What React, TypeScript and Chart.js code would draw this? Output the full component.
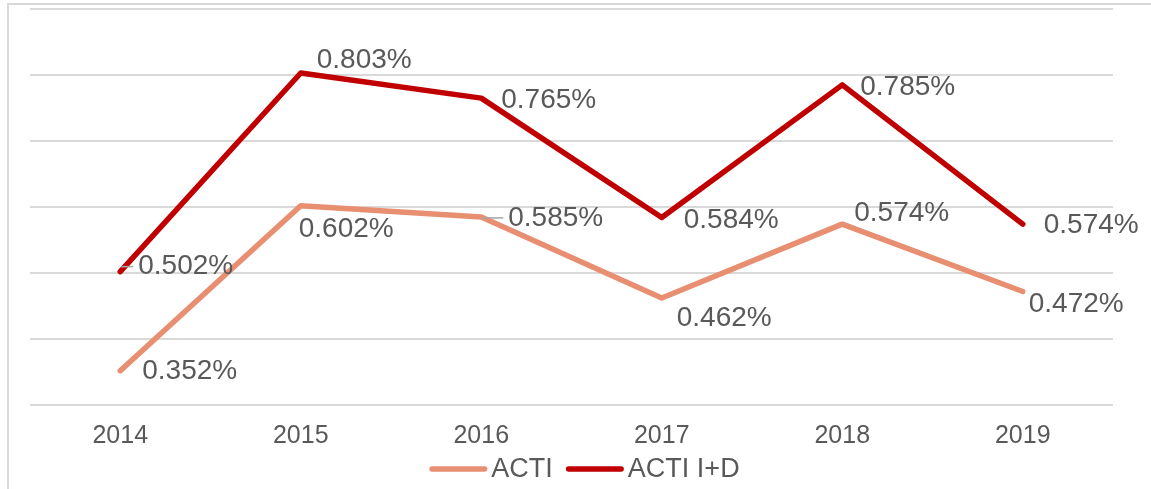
import React, { useEffect, useRef } from "react";
import { Chart, registerables } from "chart.js";

Chart.register(...registerables);

const years = ["2014", "2015", "2016", "2017", "2018", "2019"];
const actiValues = [0.352, 0.602, 0.585, 0.462, 0.574, 0.472];
const actiIDValues = [0.502, 0.803, 0.765, 0.584, 0.785, 0.574];
const seriesNames = ["ACTI", "ACTI I+D"];

// label placement (offsets from point, in px) – style, not data
const actiLabelOffsets = [
  [22, 1], [-2, 24], [27, 1], [15, 20], [12, -11], [6, 13],
];
const actiIDLabelOffsets = [
  [18, -5], [16, -13], [20, 2], [22, 3], [18, 2], [21, 1],
];
const labelOffsets = [actiLabelOffsets, actiIDLabelOffsets];
// leader lines: [datasetIndex, pointIndex]
const leaders = [
  [1, 0],
  [0, 2],
];

const COLORS = ["#E88E71", "#C00000"];
const TEXT = "#595959";
const GRID = "#D9D9D9";
const FONT = "'Liberation Sans', Arial, sans-serif";
const LINE_W = 5.5;

const labelPlugin = {
  id: "pctLabels",
  afterDatasetsDraw(chart: any) {
    const ctx = chart.ctx;
    ctx.save();
    ctx.strokeStyle = "#A6A6A6";
    ctx.lineWidth = 1.5;
    leaders.forEach(([d, i]) => {
      const pt = chart.getDatasetMeta(d).data[i];
      const [dx, dy] = labelOffsets[d][i];
      ctx.beginPath();
      ctx.moveTo(pt.x + 1, pt.y + dy);
      ctx.lineTo(pt.x + dx - 5, pt.y + dy);
      ctx.stroke();
    });
    ctx.font = `28px ${FONT}`;
    ctx.fillStyle = TEXT;
    ctx.textAlign = "left";
    ctx.textBaseline = "middle";
    chart.data.datasets.forEach((ds: any, d: number) => {
      const meta = chart.getDatasetMeta(d);
      meta.data.forEach((pt: any, i: number) => {
        const [dx, dy] = labelOffsets[d][i];
        ctx.fillText(ds.data[i].toFixed(3) + "%", pt.x + dx, pt.y + dy);
      });
    });
    ctx.restore();
  },
};

// legend drawn below the x axis labels
const legendPlugin = {
  id: "lineLegend",
  afterDraw(chart: any) {
    const ctx = chart.ctx;
    const swatch = 58;
    const gapText = 4;
    const gapItem = 13;
    ctx.save();
    ctx.font = `27px ${FONT}`;
    ctx.textBaseline = "middle";
    ctx.textAlign = "left";
    const items = chart.data.datasets.map((ds: any, i: number) => ({
      text: ds.label,
      color: COLORS[i],
      w: ctx.measureText(ds.label).width,
    }));
    const total =
      items.reduce((s: number, it: any) => s + swatch + gapText + it.w, 0) +
      gapItem * (items.length - 1);
    let x = chart.width / 2 + 9 - total / 2;
    const y = chart.chartArea.bottom + 64;
    items.forEach((it: any) => {
      ctx.strokeStyle = it.color;
      ctx.lineWidth = LINE_W;
      ctx.lineCap = "round";
      ctx.beginPath();
      ctx.moveTo(x + LINE_W / 2, y);
      ctx.lineTo(x + swatch - LINE_W / 2, y);
      ctx.stroke();
      ctx.fillStyle = TEXT;
      ctx.fillText(it.text, x + swatch + gapText, y + 1);
      x += swatch + gapText + it.w + gapItem;
    });
    ctx.restore();
  },
};

export default function App() {
  const ref = useRef<HTMLCanvasElement>(null);
  useEffect(() => {
    if (!ref.current) return;
    const chart = new Chart(ref.current, {
      type: "line",
      data: {
        labels: years,
        datasets: [
          {
            label: seriesNames[0],
            data: actiValues,
            borderColor: COLORS[0],
            backgroundColor: COLORS[0],
            borderWidth: LINE_W,
            pointRadius: 0,
            tension: 0,
            borderCapStyle: "round",
            borderJoinStyle: "round",
          },
          {
            label: seriesNames[1],
            data: actiIDValues,
            borderColor: COLORS[1],
            backgroundColor: COLORS[1],
            borderWidth: LINE_W,
            pointRadius: 0,
            tension: 0,
            borderCapStyle: "round",
            borderJoinStyle: "round",
          },
        ],
      },
      options: {
        animation: false,
        responsive: false,
        maintainAspectRatio: false,
        layout: { padding: { left: 30, right: 38, top: 9, bottom: 22 } },
        scales: {
          x: {
            offset: true,
            grid: { display: false, drawTicks: false },
            border: { display: false },
            ticks: { color: TEXT, font: { family: FONT, size: 25 }, padding: 16 },
          },
          y: {
            min: 0.3,
            max: 0.9,
            ticks: { display: false, stepSize: 0.1 },
            grid: { color: GRID, lineWidth: 2, drawTicks: false },
            border: { display: false },
          },
        },
        plugins: {
          tooltip: { enabled: false },
          legend: { display: false },
        },
      },
      plugins: [labelPlugin, legendPlugin],
    });
    return () => chart.destroy();
  }, []);
  return (
    <div style={{ position: "absolute", left: 0, top: 0, width: 1151, height: 489, overflow: "hidden", background: "#fff" }}>
      <div
        style={{
          position: "absolute",
          left: 7,
          top: 3,
          width: 1300,
          height: 700,
          border: "2px solid #D9D9D9",
        }}
      />
      <canvas ref={ref} width={1151} height={489} style={{ position: "absolute", left: 0, top: 0 }} />
    </div>
  );
}
